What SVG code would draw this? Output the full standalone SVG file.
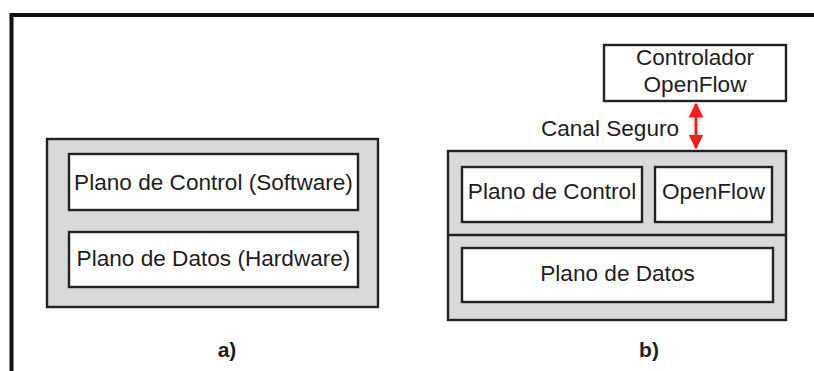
<svg xmlns="http://www.w3.org/2000/svg" width="814" height="371" viewBox="0 0 814 371">
  <style>
    .frame { fill: none; stroke: #111; stroke-width: 4; }
    .outer { fill: #d9d9d9; stroke: #222; stroke-width: 2.4; }
    .inner { fill: #fff; stroke: #222; stroke-width: 2.4; }
    .lbl { font-family: "Liberation Sans", Arial, sans-serif; font-size: 22.6px; fill: #1e1e1e; text-anchor: middle; }
    .cap { font-family: "Liberation Sans", Arial, sans-serif; font-size: 21px; font-weight: bold; fill: #1e1e1e; text-anchor: middle; }
    .link { stroke: #ff1a1a; stroke-width: 3; fill: none; }
  </style>
  <defs>
    <marker id="ah" viewBox="0 0 10 10" refX="9" refY="5" markerWidth="5" markerHeight="5.5" markerUnits="strokeWidth" orient="auto-start-reverse">
      <path d="M0,0 L10,5 L0,10 Z" fill="#ff1a1a"/>
    </marker>
  </defs>

  <rect width="814" height="371" fill="#fff"/>

  <!-- page frame, open on the right and bottom -->
  <path class="frame" d="M11.5,371 V15 H814"/>

  <!-- a) classic switch -->
  <g id="switch-a">
    <rect class="outer" x="47" y="139" width="331" height="168"/>
    <g id="a-control">
      <rect class="inner" x="69" y="154" width="289" height="56"/>
      <text class="lbl" x="213.5" y="190">Plano de Control (Software)</text>
    </g>
    <g id="a-data">
      <rect class="inner" x="69" y="232" width="289" height="55"/>
      <text class="lbl" x="213.5" y="266">Plano de Datos (Hardware)</text>
    </g>
  </g>
  <text class="cap" x="227" y="357">a)</text>

  <!-- b) OpenFlow switch -->
  <g id="controller">
    <rect class="inner" x="604" y="45" width="182" height="56"/>
    <text class="lbl" x="695" y="65">Controlador</text>
    <text class="lbl" x="695" y="92">OpenFlow</text>
  </g>

  <g id="switch-b">
    <rect class="outer" x="448" y="151" width="338" height="169"/>
    <line x1="448" y1="235" x2="786" y2="235" stroke="#222" stroke-width="2.4"/>
    <g id="b-control">
      <rect class="inner" x="462" y="167" width="180" height="55"/>
      <text class="lbl" x="552" y="199">Plano de Control</text>
    </g>
    <g id="b-openflow">
      <rect class="inner" x="655" y="167" width="117" height="55"/>
      <text class="lbl" x="713.5" y="199">OpenFlow</text>
    </g>
    <g id="b-data">
      <rect class="inner" x="462" y="248" width="311" height="54"/>
      <text class="lbl" x="617.5" y="281">Plano de Datos</text>
    </g>
  </g>
  <text class="cap" x="649" y="357">b)</text>

  <!-- secure channel between controller and switch -->
  <g id="connectors">
    <line class="link" x1="696" y1="104" x2="696" y2="148" marker-start="url(#ah)" marker-end="url(#ah)"/>
    <text class="lbl" x="610" y="136">Canal Seguro</text>
  </g>
</svg>
